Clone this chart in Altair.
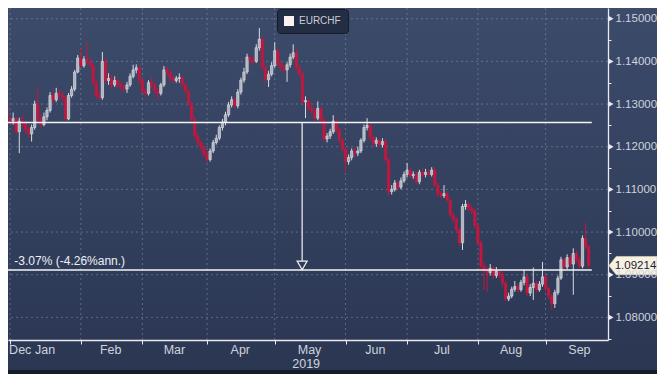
import altair as alt
import pandas as pd
import numpy as np

# ---------------- data (EURCHF daily) ----------------
first_open = 1.1275
dec_c = [1.1291, 1.1263]
dec_h = [1.1300, 1.1296]
dec_l = [1.1268, 1.1222]
jan_c = [1.1260, 1.1266, 1.1235, 1.1260, 1.1255, 1.1240, 1.1230, 1.1245, 1.1300, 1.1265, 1.1252, 1.1270,
         1.1285, 1.1320, 1.1310, 1.1325, 1.1320, 1.1315, 1.1265, 1.1320, 1.1335, 1.1375, 1.1408]
jan_h = [1.1272, 1.1280, 1.1270, 1.1268, 1.1275, 1.1262, 1.1248, 1.1252, 1.1308, 1.1340, 1.1275, 1.1280,
         1.1292, 1.1328, 1.1332, 1.1338, 1.1335, 1.1330, 1.1320, 1.1326, 1.1342, 1.1380, 1.1415]
jan_l = [1.1250, 1.1252, 1.1228, 1.1185, 1.1245, 1.1232, 1.1220, 1.1212, 1.1240, 1.1258, 1.1245, 1.1248,
         1.1262, 1.1280, 1.1302, 1.1305, 1.1312, 1.1305, 1.1260, 1.1262, 1.1315, 1.1330, 1.1372]
feb_c = [1.1390, 1.1405, 1.1400, 1.1390, 1.1350, 1.1320, 1.1315, 1.1400, 1.1355, 1.1360, 1.1345, 1.1355,
         1.1345, 1.1340, 1.1335, 1.1345, 1.1365, 1.1380, 1.1385, 1.1355]
feb_h = [1.1431, 1.1412, 1.1445, 1.1410, 1.1395, 1.1356, 1.1330, 1.1422, 1.1408, 1.1372, 1.1368, 1.1365,
         1.1360, 1.1352, 1.1346, 1.1352, 1.1372, 1.1392, 1.1393, 1.1390]
feb_l = [1.1385, 1.1385, 1.1395, 1.1385, 1.1345, 1.1312, 1.1308, 1.1310, 1.1348, 1.1345, 1.1335, 1.1340,
         1.1338, 1.1332, 1.1328, 1.1326, 1.1340, 1.1360, 1.1372, 1.1350]
mar_c = [1.1330, 1.1325, 1.1350, 1.1345, 1.1330, 1.1325, 1.1345, 1.1380, 1.1375, 1.1360, 1.1355, 1.1360,
         1.1362, 1.1345, 1.1330, 1.1300, 1.1265, 1.1225, 1.1210, 1.1200, 1.1182]
mar_h = [1.1360, 1.1338, 1.1356, 1.1362, 1.1350, 1.1338, 1.1350, 1.1389, 1.1388, 1.1380, 1.1368, 1.1366,
         1.1372, 1.1366, 1.1350, 1.1334, 1.1305, 1.1270, 1.1232, 1.1215, 1.1205]
mar_l = [1.1325, 1.1318, 1.1320, 1.1338, 1.1322, 1.1310, 1.1320, 1.1340, 1.1366, 1.1352, 1.1348, 1.1350,
         1.1350, 1.1340, 1.1325, 1.1295, 1.1258, 1.1218, 1.1200, 1.1190, 1.1175]
apr_c = [1.1170, 1.1190, 1.1210, 1.1220, 1.1245, 1.1258, 1.1275, 1.1298, 1.1310, 1.1296, 1.1328, 1.1356,
         1.1375, 1.1410, 1.1403, 1.1400, 1.1432, 1.1452, 1.1385, 1.1357, 1.1370, 1.1390]
apr_h = [1.1190, 1.1196, 1.1216, 1.1228, 1.1250, 1.1265, 1.1282, 1.1305, 1.1318, 1.1315, 1.1335, 1.1362,
         1.1385, 1.1418, 1.1416, 1.1410, 1.1440, 1.1478, 1.1458, 1.1390, 1.1378, 1.1398]
apr_l = [1.1162, 1.1165, 1.1185, 1.1205, 1.1215, 1.1238, 1.1250, 1.1270, 1.1292, 1.1290, 1.1290, 1.1322,
         1.1350, 1.1370, 1.1395, 1.1392, 1.1396, 1.1425, 1.1380, 1.1350, 1.1340, 1.1365]
may_c = [1.1425, 1.1395, 1.1385, 1.1380, 1.1392, 1.1410, 1.1420, 1.1385, 1.1370, 1.1305, 1.1308, 1.1290,
         1.1285, 1.1267, 1.1290, 1.1262, 1.1218, 1.1225, 1.1235, 1.1260, 1.1240, 1.1215, 1.1195]
may_h = [1.1445, 1.1430, 1.1400, 1.1392, 1.1398, 1.1418, 1.1440, 1.1428, 1.1392, 1.1376, 1.1318, 1.1312,
         1.1300, 1.1290, 1.1306, 1.1295, 1.1268, 1.1232, 1.1242, 1.1274, 1.1265, 1.1245, 1.1220]
may_l = [1.1385, 1.1388, 1.1378, 1.1372, 1.1352, 1.1385, 1.1405, 1.1378, 1.1362, 1.1300, 1.1267, 1.1284,
         1.1278, 1.1260, 1.1262, 1.1255, 1.1212, 1.1210, 1.1218, 1.1230, 1.1232, 1.1208, 1.1185]
jun_c = [1.1165, 1.1175, 1.1190, 1.1185, 1.1190, 1.1215, 1.1245, 1.1250, 1.1222, 1.1208, 1.1215, 1.1205,
         1.1212, 1.1170, 1.1095, 1.1100, 1.1115, 1.1105, 1.1120, 1.1135]
jun_h = [1.1200, 1.1182, 1.1196, 1.1198, 1.1200, 1.1220, 1.1252, 1.1267, 1.1256, 1.1228, 1.1222, 1.1220,
         1.1220, 1.1218, 1.1175, 1.1110, 1.1122, 1.1120, 1.1128, 1.1142]
jun_l = [1.1141, 1.1158, 1.1168, 1.1176, 1.1178, 1.1185, 1.1210, 1.1238, 1.1215, 1.1200, 1.1200, 1.1198,
         1.1198, 1.1165, 1.1085, 1.1088, 1.1095, 1.1095, 1.1100, 1.1115]
jul_c = [1.1145, 1.1132, 1.1135, 1.1118, 1.1140, 1.1135, 1.1140, 1.1135, 1.1145, 1.1110, 1.1090, 1.1085,
         1.1090, 1.1075, 1.1040, 1.1030, 1.1005, 1.0975, 1.1060, 1.1065, 1.1055, 1.1050, 1.1015]
jul_h = [1.1162, 1.1150, 1.1142, 1.1140, 1.1146, 1.1150, 1.1148, 1.1146, 1.1152, 1.1150, 1.1115, 1.1095,
         1.1110, 1.1095, 1.1080, 1.1046, 1.1035, 1.1010, 1.1066, 1.1075, 1.1070, 1.1062, 1.1055]
jul_l = [1.1128, 1.1125, 1.1125, 1.1112, 1.1112, 1.1128, 1.1128, 1.1130, 1.1130, 1.1105, 1.1082, 1.1078,
         1.1080, 1.1070, 1.1035, 1.1022, 1.0998, 1.0968, 1.0958, 1.1052, 1.1048, 1.1042, 1.1008]
aug_c = [1.0975, 1.0920, 1.0910, 1.0905, 1.0915, 1.0898, 1.0908, 1.0900, 1.0880, 1.0843, 1.0850, 1.0866,
         1.0872, 1.0865, 1.0882, 1.0895, 1.0857, 1.0870, 1.0880, 1.0865, 1.0878, 1.0895]
aug_h = [1.1020, 1.0980, 1.0928, 1.0918, 1.0925, 1.0920, 1.0918, 1.0912, 1.0905, 1.0885, 1.0858, 1.0872,
         1.0885, 1.0878, 1.0888, 1.0912, 1.0900, 1.0878, 1.0917, 1.0885, 1.0885, 1.0930]
aug_l = [1.0968, 1.0912, 1.0865, 1.0860, 1.0898, 1.0890, 1.0892, 1.0892, 1.0872, 1.0838, 1.0838, 1.0845,
         1.0860, 1.0858, 1.0860, 1.0875, 1.0850, 1.0850, 1.0841, 1.0858, 1.0860, 1.0872]
sep_c = [1.0868, 1.0850, 1.0832, 1.0858, 1.0892, 1.0935, 1.0918, 1.0940, 1.0925, 1.0950, 1.0935, 1.0920,
         1.0985, 1.0965, 1.09214]
sep_h = [1.0900, 1.0872, 1.0855, 1.0865, 1.0898, 1.0942, 1.0940, 1.0948, 1.0945, 1.0962, 1.0958, 1.0942,
         1.0992, 1.1022, 1.0970]
sep_l = [1.0862, 1.0842, 1.0818, 1.0822, 1.0852, 1.0888, 1.0912, 1.0912, 1.0918, 1.0853, 1.0928, 1.0915,
         1.0915, 1.0960, 1.0915]

closes = dec_c + jan_c + feb_c + mar_c + apr_c + may_c + jun_c + jul_c + aug_c + sep_c
highs = dec_h + jan_h + feb_h + mar_h + apr_h + may_h + jun_h + jul_h + aug_h + sep_h
lows = dec_l + jan_l + feb_l + mar_l + apr_l + may_l + jun_l + jul_l + aug_l + sep_l

# axis labels / annotations
y_major = [1.08, 1.09, 1.10, 1.11, 1.12, 1.13, 1.14, 1.15]
y_minor = [1.075, 1.085, 1.095, 1.105, 1.115, 1.125, 1.135, 1.145]
month_names = ["Dec", "Jan", "Feb", "Mar", "Apr", "May", "Jun", "Jul", "Aug", "Sep"]
month_label_pos = [3.3, 11.4, 32.7, 53.4, 74.8, 97.3, 118.7, 140.3, 162.8, 185.0]
year_label = "2019"
year_label_pos = 96.2
level_start = 1.1257       # horizontal reference line
level_end = 1.0911         # horizontal line at the end level
arrow_pos = 94.9           # trading-day index of the arrow
note_pos = 1.4
note_text = "-3.07% (-4.26%ann.)"
series_name = "EURCHF"

# ---------------- frames ----------------
opens = [first_open] + closes[:-1]
dates = pd.bdate_range("2018-12-28", "2019-09-20")
df = pd.DataFrame({
    "date": dates.strftime("%Y-%m-%d"),
    "i": np.arange(len(closes)) - 2,       # 0 = 2019-01-01, trading-day index
    "open": opens, "close": closes, "high": highs, "low": lows,
})
df["high"] = np.maximum(df["high"], df[["open", "close"]].max(axis=1))
df["low"] = np.minimum(df["low"], df[["open", "close"]].min(axis=1))
df["dir"] = np.where(df["close"] >= df["open"], "up", "down")
df["month"] = dates.strftime("%Y-%m")
month_starts = df[df["month"] >= "2019-01"].groupby("month")["i"].min().tolist()

W, H = 600, 332
TOTAL_W, TOTAL_H = 649, 366
X_DOM = [0.958, 192.65]
Y_DOM = [1.0747, 1.15251]
xs = alt.Scale(domain=X_DOM, nice=False, zero=False)
ys = alt.Scale(domain=Y_DOM, nice=False, zero=False)

FONT = "Liberation Sans"
AXC = "#e9ebf0"
LBL = "#cfd3dc"
UP_FILL, UP_STROKE, DOWN = "#aeb2bd", "#e6e8ee", "#c3173f"

X_AX = alt.Axis(orient="bottom", values=month_starts, labels=False, grid=False, title=None,
                domainColor=AXC, domainWidth=1.3, tickColor=AXC, tickSize=4, zindex=1)
Y_AX = alt.Axis(orient="right", values=sorted(y_major + y_minor), grid=False, title=None,
                labelExpr="abs(round(datum.value*200)) % 2 == 0 ? format(datum.value, '.5f') : ''",
                labelOverlap=False, labelBound=False, labelFlush=False,
                domainColor=AXC, domainWidth=1.3, tickColor=AXC, tickSize=3, labelPadding=4,
                labelFont=FONT, labelFontSize=11.5, labelColor=LBL, zindex=1)


def X(field):
    return alt.X(field, scale=xs, axis=X_AX)


def Y(field):
    return alt.Y(field, scale=ys, axis=Y_AX)


# ---------------- layers ----------------
bg = alt.Chart(pd.DataFrame({"a": [0]})).mark_rect(
    fill=alt.Gradient(gradient="linear",
                      stops=[alt.GradientStop(color="#3d4b6b", offset=0),
                             alt.GradientStop(color="#2a3652", offset=1)],
                      x1=0, x2=0, y1=0, y2=1)
).encode(x=alt.value(0), x2=alt.value(TOTAL_W), y=alt.value(0), y2=alt.value(TOTAL_H))

bottom_edge = alt.Chart(pd.DataFrame({"a": [0]})).mark_rect(color="#161b26").encode(
    x=alt.value(0), x2=alt.value(TOTAL_W), y=alt.value(TOTAL_H - 4), y2=alt.value(TOTAL_H))

hgrid = alt.Chart(pd.DataFrame({"v": y_major})).mark_rule(
    color="#7d8aa6", strokeDash=[2, 3], strokeWidth=1, opacity=0.6
).encode(y=Y("v:Q"))

vgrid = alt.Chart(pd.DataFrame({"i": month_starts})).mark_rule(
    color="#7d8aa6", strokeDash=[2, 3], strokeWidth=1, opacity=0.6, clip=True
).encode(x=X("i:Q"))

wicks = alt.Chart(df).mark_rule(strokeWidth=1, clip=True).encode(
    x=X("i:Q"), y=Y("low:Q"), y2="high:Q",
    stroke=alt.Stroke("dir:N", scale=alt.Scale(domain=["up", "down"], range=["#d8dbe2", DOWN]), legend=None),
)

bodies = alt.Chart(df).mark_bar(size=2.3, strokeWidth=0.7, clip=True).encode(
    x=X("i:Q"), y=Y("open:Q"), y2="close:Q",
    fill=alt.Fill("dir:N", scale=alt.Scale(domain=["up", "down"], range=[UP_FILL, DOWN]), legend=None),
    stroke=alt.Stroke("dir:N", scale=alt.Scale(domain=["up", "down"], range=[UP_STROKE, DOWN]), legend=None),
)

last_i = int(df["i"].iloc[-1])
lines_df = pd.DataFrame({"v": [level_start, level_end],
                         "x0": [int(df["i"].iloc[0]), int(df["i"].iloc[0])],
                         "x1": [last_i + 1, last_i + 1]})
hlines = alt.Chart(lines_df).mark_rule(color="#f4f4f4", strokeWidth=1.5, clip=True).encode(
    x=X("x0:Q"), x2="x1:Q", y=Y("v:Q"))

arrow_df = pd.DataFrame({"x": [arrow_pos], "y0": [level_start], "y1": [level_end]})
arrow = alt.Chart(arrow_df).mark_rule(color="#f4f4f4", strokeWidth=1.2).encode(
    x=X("x:Q"), y=Y("y0:Q"), y2="y1:Q")
arrow_head = alt.Chart(arrow_df).mark_point(
    shape="triangle-down", size=100, filled=True, fill="#2f3c58", stroke="#f4f4f4",
    strokeWidth=1.2, opacity=1, yOffset=-4.6
).encode(x=X("x:Q"), y=Y("y1:Q"))

note = alt.Chart(pd.DataFrame({"x": [note_pos], "y": [level_end], "t": [note_text]})).mark_text(
    align="left", baseline="bottom", dy=-2, font=FONT, fontSize=12, color="#eef0f4"
).encode(x=X("x:Q"), y=Y("y:Q"), text="t:N")

axis_tri = alt.Chart(pd.DataFrame({"v": y_major})).mark_point(
    shape="triangle-right", size=34, filled=True, color=AXC, opacity=1
).encode(x=alt.value(W + 3), y=Y("v:Q"))

last_df = df.tail(1)
tag = alt.Chart(last_df).mark_point(
    shape="M-1,0L-0.7,-0.38L1,-0.38L1,0.38L-0.7,0.38Z", size=2304, filled=True,
    fill="#f6f1e3", stroke="#cfc8b4", strokeWidth=0.8, opacity=1
).encode(x=alt.value(W + 25), y=Y("close:Q"))
tag_text = alt.Chart(last_df).mark_text(
    font=FONT, fontSize=11.5, color="#1e2231", baseline="middle", align="center"
).encode(x=alt.value(W + 27.5), y=Y("close:Q"), text=alt.Text("close:Q", format=".5f"))

months = alt.Chart(pd.DataFrame({"m": month_names, "pos": month_label_pos})).mark_text(
    font=FONT, fontSize=12.5, color=LBL, baseline="middle"
).encode(x=X("pos:Q"), y=alt.value(H + 10), text="m:N")

year = alt.Chart(pd.DataFrame({"m": [year_label], "pos": [year_label_pos]})).mark_text(
    font=FONT, fontSize=12.5, color=LBL, baseline="middle"
).encode(x=X("pos:Q"), y=alt.value(H + 24), text="m:N")

legend_layer = alt.Chart(pd.DataFrame({"series": [series_name], "i": [100], "v": [1.12]})).mark_square(
    opacity=0
).encode(
    x=X("i:Q"), y=Y("v:Q"),
    color=alt.Color("series:N", scale=alt.Scale(range=["#fbf1f1"]), legend=alt.Legend(
        title=None, orient="none", legendX=269, legendY=1, fillColor="#232d44",
        strokeColor="#151b29", cornerRadius=3, padding=7, symbolType="square",
        symbolSize=100, symbolOpacity=1, symbolStrokeWidth=0, labelColor="#c9cdd6",
        labelFont=FONT, labelFontSize=10, labelOffset=5)),
)

chart = alt.layer(
    bg, bottom_edge, hgrid, vgrid, wicks, bodies, hlines, arrow, arrow_head, note, axis_tri,
    tag, tag_text, months, year, legend_layer
).properties(
    width=W, height=H,
    padding={"left": 0, "top": 0, "right": TOTAL_W - W, "bottom": TOTAL_H - H},
    autosize=alt.AutoSizeParams(type="none"),
    background="#303d5a",
).configure_view(stroke=None)

chart.save("out.html", embed_options={"renderer": "svg", "actions": False})
